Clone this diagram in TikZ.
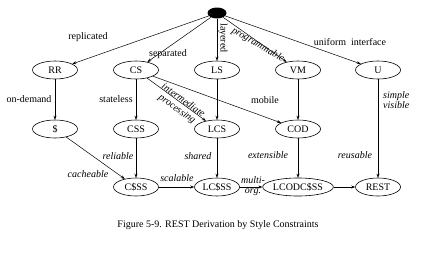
\documentclass[tikz,border=0pt]{standalone}
\usepackage{fontspec}
\setmainfont{Liberation Serif}
\usetikzlibrary{shapes.geometric,arrows.meta}
\begin{document}
\begin{tikzpicture}[x=1pt,y=-1pt,
  every node/.style={font=\fontsize{10}{10.5}\selectfont, inner sep=0pt},
  st/.style={draw, ellipse, minimum width=45pt, minimum height=18pt, line width=0.6pt},
  conn/.style={draw, line width=0.5pt, -{Stealth[length=4pt,width=3pt]}},
  lab/.style={},
  ilab/.style={font=\fontsize{10}{10.5}\selectfont\itshape}]
\useasboundingbox (0,0) rectangle (435,257);
\node[fill=black, ellipse, minimum width=19pt, minimum height=11pt] (top) at (217,13) {};
\node[st] (RR) at (55,70) {RR};
\node[st] (CS) at (136,70) {CS};
\node[st] (LS) at (217,70) {LS};
\node[st] (VM) at (298,70) {VM};
\node[st] (U) at (378,70) {U};
\node[st] (C) at (55,129) {\$};
\node[st] (CSS) at (136,129) {CSS};
\node[st] (LCS) at (217,129) {LCS};
\node[st] (COD) at (298,129) {COD};
\node[st] (CCSS) at (136,187) {C\$SS};
\node[st] (LCCSS) at (217,187) {LC\$SS};
\node[st, minimum width=63pt] (LCOD) at (298,187) {LCODC\$SS};
\node[st] (REST) at (378,187) {REST};
\draw[conn] (top) -- (RR);
\draw[conn] (top) -- (CS);
\draw[conn] (top) -- (LS);
\draw[conn] (top) -- (VM);
\draw[conn] (top) -- (U);
\draw[conn] (RR) -- (C);
\draw[conn] (CS) -- (CSS);
\draw[conn] (CS) -- (LCS);
\draw[conn] (CS) -- (COD);
\draw[conn] (LS) -- (LCS);
\draw[conn] (VM) -- (COD);
\draw[conn] (U) -- (REST);
\draw[conn] (C) -- (CCSS);
\draw[conn] (CSS) -- (CCSS);
\draw[conn] (LCS) -- (LCCSS);
\draw[conn] (CCSS) -- (LCCSS);
\draw[conn] (LCCSS) -- (LCOD);
\draw[conn] (COD) -- (LCOD);
\draw[conn] (LCOD) -- (REST);
\node[lab] (l1) at (88,37) {replicated};
\node[lab] (l2) at (168,54) {separated};
\node[lab, rotate=-90] (l3) at (223,38) {layered};
\node[ilab, rotate=-30.5] (l4) at (258,45) {programmable};
\node[lab] (l5) at (350,42) {uniform\ \ interface};
\node[lab] (l6) at (29,99) {on-demand};
\node[lab] (l7) at (116,99) {stateless};
\node[ilab, rotate=-36, align=center] (l8) at (180,105) {intermediate\\processing};
\node[lab] (l9) at (265,100) {mobile};
\node[ilab, align=left, anchor=west] (l10) at (383,100) {simple\\visible};
\node[ilab] (l11) at (118,156) {reliable};
\node[ilab] (l12) at (88,174) {cacheable};
\node[ilab] (l13) at (198,156) {shared};
\node[ilab] (l14) at (268,155) {extensible};
\node[ilab] (l15) at (355,155) {reusable};
\node[ilab] (l16) at (177,178) {scalable};
\node[ilab, align=center] (l17) at (253,186) {multi-\\org.};
\node (cap) at (218,225) {Figure 5-9. REST Derivation by Style Constraints};
\end{tikzpicture}
\end{document}
